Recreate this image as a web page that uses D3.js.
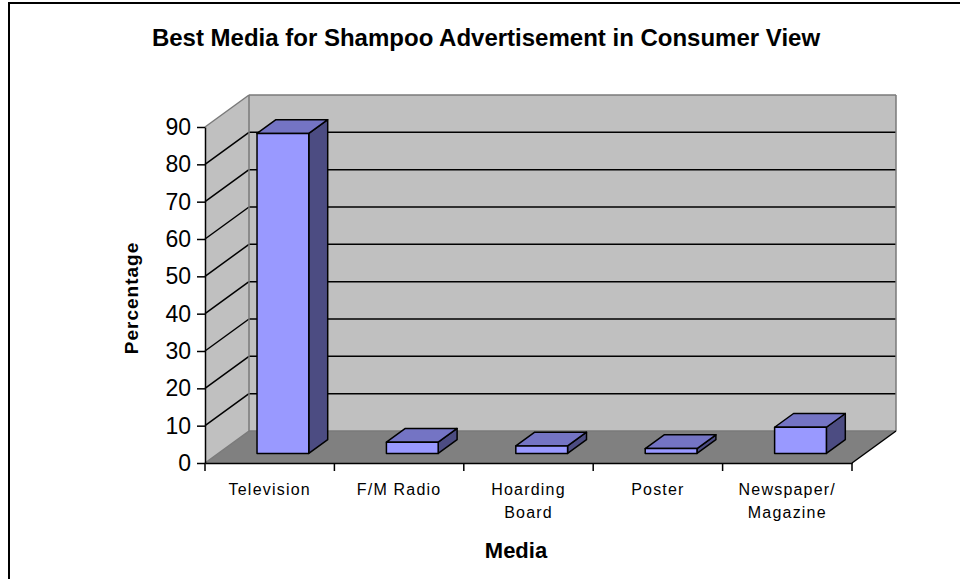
<!doctype html>
<html>
<head>
    <meta charset="UTF-8">
    <script src="https://d3js.org/d3.v7.min.js"></script>
    <title></title>
</head>

<body style="margin:0">

<style>
    text {
        font-family: "Liberation Sans", Arial, sans-serif;
        fill: #000000;
    }
</style>

<div id="graph"></div>

<script>
    // data
    var categories = ["Television", "F/M Radio", "Hoarding\nBoard", "Poster", "Newspaper/\nMagazine"];
    var values = [85.7, 3, 2, 1.3, 7];
    var yTicks = [0, 10, 20, 30, 40, 50, 60, 70, 80, 90];

    var w = 960,
        h = 579;

    var vis = d3.select("#graph")
            .append("svg")
            .attr("width", w)
            .attr("height", h)
            .style("display", "block")
            .style("background-color", "#fff");

    // outer chart border
    vis.append("rect")
            .attr("x", 9).attr("y", 3)
            .attr("width", w).attr("height", h)
            .attr("fill", "none")
            .attr("stroke", "#000")
            .attr("stroke-width", 2);

    var x0 = 205, x1 = 852;
    var DX = 44, DY = -32;   // depth of the floor / walls

    var x = d3.scaleBand().domain(categories).range([x0, x1]);
    var y = d3.scaleLinear().domain([0, 90]).range([463, 127]);

    var yb = y(0), yt = y(90);

    function poly(pts) {
        return pts.map(function(p) { return p[0] + "," + p[1]; }).join(" ");
    }

    // back wall
    vis.append("polygon")
            .attr("points", poly([[x0+DX, yb+DY], [x1+DX, yb+DY], [x1+DX, yt+DY], [x0+DX, yt+DY]]))
            .attr("fill", "#c0c0c0");
    // left wall
    vis.append("polygon")
            .attr("points", poly([[x0, yb], [x0, yt], [x0+DX, yt+DY], [x0+DX, yb+DY]]))
            .attr("fill", "#c0c0c0");
    // floor
    vis.append("polygon")
            .attr("points", poly([[x0, yb], [x1, yb], [x1+DX, yb+DY], [x0+DX, yb+DY]]))
            .attr("fill", "#808080");

    // gridlines on back wall and left wall
    var inner = yTicks.filter(function(v) { return v > 0 && v < 90; });
    vis.selectAll(".gridb")
            .data(inner)
            .enter()
            .append("line")
            .attr("x1", x0+DX).attr("x2", x1+DX)
            .attr("y1", function(d) { return y(d)+DY; })
            .attr("y2", function(d) { return y(d)+DY; })
            .style("stroke", "#000").style("stroke-width", 1.5);
    vis.selectAll(".gridl")
            .data(inner)
            .enter()
            .append("line")
            .attr("x1", x0).attr("x2", x0+DX)
            .attr("y1", function(d) { return y(d); })
            .attr("y2", function(d) { return y(d)+DY; })
            .style("stroke", "#000").style("stroke-width", 1.5);

    // wall edges (grey)
    var edges = [
        [x0, yt, x0+DX, yt+DY],
        [x0+DX, yt+DY, x1+DX, yt+DY],
        [x1+DX, yt+DY, x1+DX, yb+DY],
        [x0+DX, yt+DY, x0+DX, yb+DY],
        [x0, yb, x0+DX, yb+DY],
        [x0+DX, yb+DY, x1+DX, yb+DY]
    ];
    vis.selectAll(".edge")
            .data(edges)
            .enter()
            .append("line")
            .attr("x1", function(d) { return d[0]; })
            .attr("y1", function(d) { return d[1]; })
            .attr("x2", function(d) { return d[2]; })
            .attr("y2", function(d) { return d[3]; })
            .style("stroke", "#7a7a7a").style("stroke-width", 1.5);

    // floor right edge
    vis.append("line")
            .attr("x1", x1).attr("y1", yb)
            .attr("x2", x1+DX).attr("y2", yb+DY)
            .style("stroke", "#000").style("stroke-width", 1.5);

    // bars
    var bw = x.bandwidth() * 0.4;
    var f0 = 0.3, f1 = 0.73;
    var bars = categories.map(function(c, i) {
        var bx = x(c) + (x.bandwidth() - bw) / 2;
        return {bx: bx, v: values[i]};
    });

    var g = vis.selectAll(".bar").data(bars).enter().append("g").attr("class", "bar");

    g.append("polygon")   // side
            .attr("points", function(d) {
                var r = d.bx + bw;
                return poly([[r+DX*f0, y(d.v)+DY*f0], [r+DX*f1, y(d.v)+DY*f1],
                             [r+DX*f1, y(0)+DY*f1], [r+DX*f0, y(0)+DY*f0]]);
            })
            .attr("fill", "#4c4c82");
    g.append("polygon")   // top
            .attr("points", function(d) {
                var t = y(d.v);
                return poly([[d.bx+DX*f0, t+DY*f0], [d.bx+bw+DX*f0, t+DY*f0],
                             [d.bx+bw+DX*f1, t+DY*f1], [d.bx+DX*f1, t+DY*f1]]);
            })
            .attr("fill", "#7474c4");
    g.append("rect")      // front
            .attr("x", function(d) { return d.bx + DX*f0; })
            .attr("y", function(d) { return y(d.v) + DY*f0; })
            .attr("width", bw)
            .attr("height", function(d) { return y(0) - y(d.v); })
            .attr("fill", "#9999ff");
    g.selectAll("polygon, rect")
            .attr("stroke", "#000")
            .attr("stroke-width", 1.5)
            .attr("stroke-linejoin", "round");

    // y axis
    var yAxis = vis.append("g")
            .attr("transform", "translate(" + x0 + ",0)")
            .call(d3.axisLeft(y).tickValues(yTicks).tickSize(8).tickSizeOuter(0).tickPadding(6));
    yAxis.attr("font-family", null).attr("font-size", null);
    yAxis.selectAll("text").style("font-size", "23px");
    yAxis.selectAll("line, path").style("stroke", "#000").style("stroke-width", 1.5);

    // x axis
    var xAxis = vis.append("g")
            .attr("transform", "translate(0," + yb + ")")
            .call(d3.axisBottom(x).tickSize(0).tickSizeOuter(0));
    xAxis.attr("font-family", null).attr("font-size", null);
    xAxis.select(".domain").style("stroke", "#000").style("stroke-width", 1.5);
    xAxis.selectAll(".tick text").each(function(d) {
        var t = d3.select(this);
        t.text(null).attr("y", null).attr("dy", null)
         .style("font-size", "16px").style("letter-spacing", "1.2px");
        d.split("\n").forEach(function(line, i) {
            t.append("tspan").attr("x", 0).attr("y", 32 + i*23).text(line);
        });
    });
    var bounds = categories.map(function(c) { return x(c); }).concat([x1]);
    xAxis.selectAll(".bound")
            .data(bounds)
            .enter()
            .append("line")
            .attr("x1", function(d) { return d; })
            .attr("x2", function(d) { return d; })
            .attr("y1", 0).attr("y2", 8)
            .style("stroke", "#000").style("stroke-width", 1.5);

    // titles
    vis.append("text")
            .attr("x", 486).attr("y", 46)
            .attr("text-anchor", "middle")
            .style("font-size", "24px").style("font-weight", "bold")
            .text("Best Media for Shampoo Advertisement in Consumer View");

    vis.append("text")
            .attr("transform", "translate(138,298) rotate(-90)")
            .attr("text-anchor", "middle")
            .style("font-size", "19px").style("font-weight", "bold")
            .style("letter-spacing", "1px")
            .text("Percentage");

    vis.append("text")
            .attr("x", 516).attr("y", 558)
            .attr("text-anchor", "middle")
            .style("font-size", "22px").style("font-weight", "bold")
            .text("Media");
</script>

</body>
</html>
